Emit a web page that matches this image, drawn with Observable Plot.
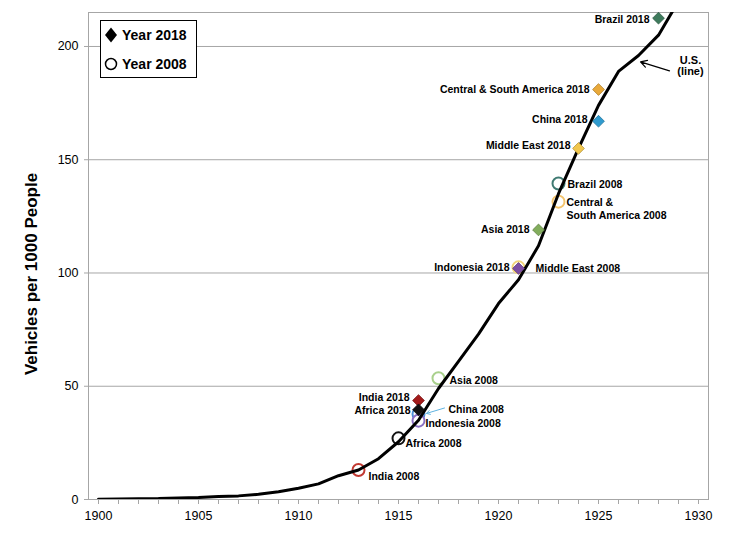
<!DOCTYPE html>
<html><head><meta charset="utf-8">
<script src="https://cdn.jsdelivr.net/npm/d3@7"></script>
<script src="https://cdn.jsdelivr.net/npm/@observablehq/plot@0.6"></script>
<style>
body{margin:0;background:#fff;font-family:"Liberation Sans",Arial,sans-serif;}
#wrap{position:relative;width:730px;height:544px;}
#legend{position:absolute;left:100px;top:20px;width:97px;height:58px;border:1px solid #000;background:#fff;box-sizing:border-box;font-weight:bold;font-size:14px;color:#000;}
#legend .row{position:absolute;left:3px;display:flex;align-items:center;gap:4px;}
</style></head><body><div id="wrap"></div>
<script>
// US line (vehicles per 1000 people by year)
const usYears = [1900,1901,1902,1903,1904,1905,1906,1907,1908,1909,1910,1911,1912,1913,1914,1915,1916,1917,1918,1919,1920,1921,1922,1923,1924,1925,1926,1927,1928,1929,1930];
const usValues = [0.1,0.2,0.3,0.4,0.7,0.9,1.3,1.6,2.3,3.4,5,6.9,10.5,13,18,25.5,35,49,61,73,86.5,97,112,135,155,174,189,196,205,220,217];

// Country markers
const pointLabels = ["Brazil 2018","Central & South America 2018","China 2018","Middle East 2018","Brazil 2008","Central &\nSouth America 2008","Asia 2018","Middle East 2008","Indonesia 2018","Asia 2008","India 2018","China 2008","Indonesia 2008","Africa 2018","Africa 2008","India 2008"];
const pointYears  = [1928,1925,1925,1924,1923,1923,1922,1921,1921,1917,1916,1916,1916,1916,1915,1913];
const pointValues = [212.5,181,167,155,139.5,131.5,119,102.5,102,53.5,43.7,37.8,34.8,39.6,27,13];
const pointSeries = ["2018","2018","2018","2018","2008","2008","2018","2008","2018","2008","2018","2008","2008","2018","2008","2008"];

// tick labels
const xTickLabels = [1900,1905,1910,1915,1920,1925,1930];
const yTickLabels = [0,50,100,150,200];
const legendLabels = ["Year 2018","Year 2008"];
const yTitle = "Vehicles per 1000 People";
const usNote = "U.S.\n(line)";

// styles (colors per marker, same order as pointLabels)
const pointColors = ["#3e7a5c","#e9a93a","#2f9bcf","#f1c74e","#3f7a72","#f4c46c","#82ad5c","#f2d47a","#7e4fa4","#a9d08c","#a31b1b","#4a8ed8","#8a70c4","#111111","#111111","#c23a32"];
// label layout: [dx, dy, textAnchor]
const labelLayout = [[-9,1,"end"],[-9,0,"end"],[-11,-2,"end"],[-8,-3,"end"],[9,1,"start"],[8,7,"start"],[-9,-1,"end"],[17,1,"start"],[-9,-1,"end"],[11,2,"start"],[-9,-3,"end"],[30,-5,"start"],[7,2,"start"],[-8,0,"end"],[7,5,"start"],[10,6,"start"]];

const us = usYears.map((y,i)=>({year:y, value:usValues[i]}));
const pts = pointLabels.map((l,i)=>({label:l, year:pointYears[i], value:pointValues[i], series:pointSeries[i], color:pointColors[i], lay:labelLayout[i]}));
const circles = pts.filter(d=>d.series==="2008");
const diamonds = pts.filter(d=>d.series==="2018");

const FONT = "Liberation Sans, Arial, sans-serif";
const gridColor = "#a6a6a6";

const v1927 = usValues[usYears.indexOf(1927)];
const china08 = pts.find(d=>d.label==="China 2008");

const marks = [
  Plot.ruleY(yTickLabels.filter(d=>d>0), {stroke:gridColor, strokeWidth:1}),
  Plot.frame({stroke:gridColor, strokeWidth:1}),
  Plot.axisX({ticks: usYears, tickFormat: d => xTickLabels.includes(d) ? String(d) : "", tickSize:5, tickPadding:7, stroke:gridColor, fill:"#000", fontSize:12.5, label:null}),
  Plot.axisY({ticks: yTickLabels, tickSize:4, tickPadding:6, stroke:gridColor, fill:"#000", fontSize:12.5, label:null}),
  Plot.text([yTitle], {frameAnchor:"left", textAnchor:"middle", dx:-57, dy:18, rotate:-90, fontSize:17, fontWeight:"bold", fill:"#000"}),
  Plot.dot(circles, {x:"year", y:"value", r:6, fill:"#fff", stroke:"color", strokeWidth:2}),
  Plot.line(us, {x:"year", y:"value", stroke:"#000", strokeWidth:3, clip:true}),
  Plot.dot(diamonds, {x:"year", y:"value", symbol:"diamond2", r:5.3, fill:"color", stroke: d=>d3.color(d.color).darker(0.8).formatHex(), strokeWidth:0.8}),
  Plot.arrow([china08], {x1: d=>d.year+1.3, y1: d=>d.value+2.6, x2: d=>d.year+0.4, y2: d=>d.value+0.2, stroke:"#5fb3e0", strokeWidth:1, headLength:6}),
  Plot.arrow([v1927], {x1: d=>1927+1.55, y1: d=>d-6.8, x2: d=>1927+0.1, y2: d=>d-2.8, stroke:"#000", strokeWidth:1.2, headLength:9}),
  Plot.text([v1927], {x: ()=>1929.6, y: d=>d-4.5, text: ()=>usNote, fontSize:11, fontWeight:"bold", fill:"#000", lineHeight:1.05}),
  ...pts.map(p => Plot.text([p], {x:"year", y:"value", text:"label", dx:p.lay[0], dy:p.lay[1], textAnchor:p.lay[2], fontSize:10.5, fontWeight:"bold", fill:"#000", lineHeight:1.15}))
];

const chart = Plot.plot({
  width:730, height:544,
  marginLeft:88, marginRight:22, marginTop:12, marginBottom:45,
  style:{fontFamily:FONT, background:"#fff", color:"#000"},
  x:{domain:[1899.5,1930.5]},
  y:{domain:[0,215]},
  marks
});
const wrap = document.getElementById("wrap");
wrap.appendChild(chart);

const leg = document.createElement("div");
leg.id = "legend";
leg.innerHTML = `
<div class="row" style="top:5px"><svg width="14" height="18"><path d="M7,1.5 L13,9 L7,16.5 L1,9 Z" fill="#000"/></svg><span>${legendLabels[0]}</span></div>
<div class="row" style="top:34px"><svg width="14" height="18"><circle cx="7" cy="9" r="5.5" fill="#fff" stroke="#000" stroke-width="1.5"/></svg><span>${legendLabels[1]}</span></div>`;
wrap.appendChild(leg);
</script>
</body></html>
